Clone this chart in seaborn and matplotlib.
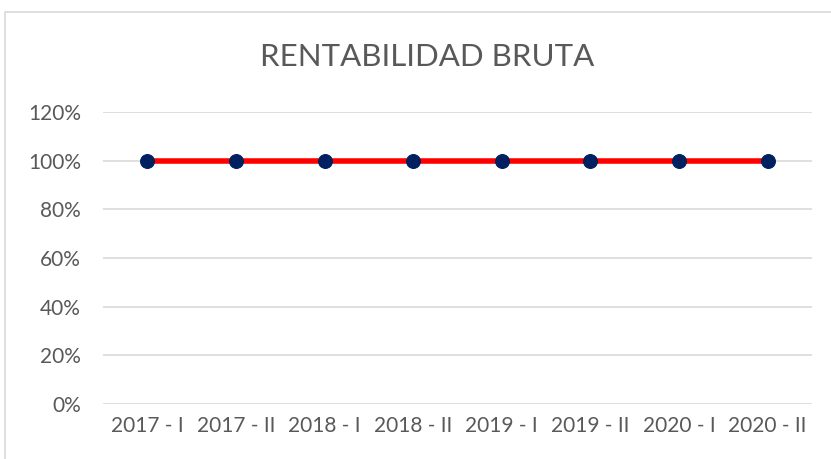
import numpy as np
import pandas as pd
import matplotlib.pyplot as plt
import seaborn as sns
from matplotlib.patches import Rectangle
from matplotlib.ticker import PercentFormatter

# data
periods = ["2017 - I", "2017 - II", "2018 - I", "2018 - II",
           "2019 - I", "2019 - II", "2020 - I", "2020 - II"]
rentabilidad = [1.0, 1.0, 1.0, 1.0, 1.0, 1.0, 1.0, 1.0]
yticks = [0, 0.2, 0.4, 0.6, 0.8, 1.0, 1.2]

df = pd.DataFrame({"periodo": periods, "rentabilidad": rentabilidad})

sns.set_style("white")
plt.rcParams["font.family"] = ["Lato", "DejaVu Sans"]

fig = plt.figure(figsize=(8.31, 4.59), dpi=100)
ax = fig.add_axes([0.124, 0.12, 0.853, 0.636])

sns.lineplot(data=df, x="periodo", y="rentabilidad", ax=ax,
             color="#FF0000", linewidth=4, marker="o", markersize=10,
             markerfacecolor="#002060", markeredgecolor="#002060", zorder=3)

ax.set_xlim(-0.5, len(periods) - 0.5)
ax.set_ylim(0, 1.2)
ax.set_yticks(yticks)
ax.yaxis.set_major_formatter(PercentFormatter(1.0, decimals=0))
ax.grid(axis="y", color="#D9D9D9", linewidth=1.2)
ax.set_axisbelow(True)
for s in ax.spines.values():
    s.set_visible(False)
ax.set_xlabel("")
ax.set_ylabel("")
ax.tick_params(axis="both", length=0, labelsize=15, labelcolor="#595959")
ax.tick_params(axis="y", pad=16)
ax.tick_params(axis="x", pad=9)

fig.text(0.514, 0.875, "RENTABILIDAD BRUTA", ha="center", va="center",
         fontsize=22.5, color="#595959")

# chart border
fig.patches.append(Rectangle((5 / 831, -0.05), 1.1, 1 - 12 / 459 + 0.05,
                             transform=fig.transFigure, fill=False,
                             edgecolor="#D9D9D9", linewidth=1.2))

fig.savefig("out.png", dpi=100)
